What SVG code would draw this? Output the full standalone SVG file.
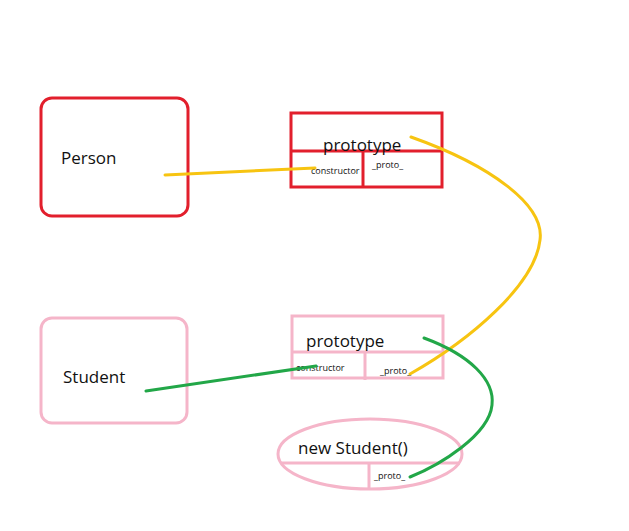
<svg xmlns="http://www.w3.org/2000/svg" width="629" height="531" viewBox="0 0 629 531">
<style>
.t{font-family:"Open Sans","Noto Sans","Liberation Sans",sans-serif;fill:#111}
.big{font-size:17px}
.sm{font-size:9px}
.red{fill:none;stroke:#e21f2c;stroke-width:3}
.pink{fill:none;stroke:#f5b5c9;stroke-width:3}
.y{fill:none;stroke:#f7c411;stroke-width:3;stroke-linecap:round}
.g{fill:none;stroke:#22a748;stroke-width:3;stroke-linecap:round}
</style>
<rect width="629" height="531" fill="#fff"/>
<g id="person">
<rect class="red" x="41" y="98" width="147" height="118" rx="11"/>
<text class="t big" x="61" y="164">Person</text>
</g>
<g id="person-prototype">
<rect class="red" x="291" y="113" width="151" height="74"/>
<line class="red" x1="291" y1="151" x2="442" y2="151"/>
<line class="red" x1="363" y1="151" x2="363" y2="187"/>
<text class="t big" x="323" y="151">prototype</text>
<text class="t sm" x="311" y="174">constructor</text>
<text class="t sm" x="372" y="168">_proto_</text>
</g>
<g id="student">
<rect class="pink" x="41" y="318" width="146" height="105" rx="11"/>
<text class="t big" x="63" y="383">Student</text>
</g>
<g id="student-prototype">
<rect class="pink" x="292" y="316" width="151" height="62"/>
<line class="pink" x1="292" y1="352" x2="443" y2="352"/>
<line class="pink" x1="365" y1="352" x2="365" y2="380"/>
<text class="t big" x="306" y="347">prototype</text>
<text class="t sm" x="296" y="371">constructor</text>
<text class="t sm" x="380" y="374">_proto_</text>
</g>
<g id="new-student">
<ellipse class="pink" cx="370" cy="454" rx="92" ry="35"/>
<line class="pink" x1="281" y1="463" x2="460" y2="463"/>
<line class="pink" x1="369" y1="463" x2="369" y2="489"/>
<text class="t big" x="298" y="454">new Student()</text>
<text class="t sm" x="374" y="479">_proto_</text>
</g>
<g id="connectors">
<path class="y" d="M165 175 L315 168"/>
<path class="y" d="M411 137 C490 165 545 205 540 240 C535 285 470 340 410 374"/>
<path class="g" d="M146 391 L316 366"/>
<path class="g" d="M424 338 C470 355 495 380 492 405 C489 435 440 465 410 477"/>
</g>
</svg>
